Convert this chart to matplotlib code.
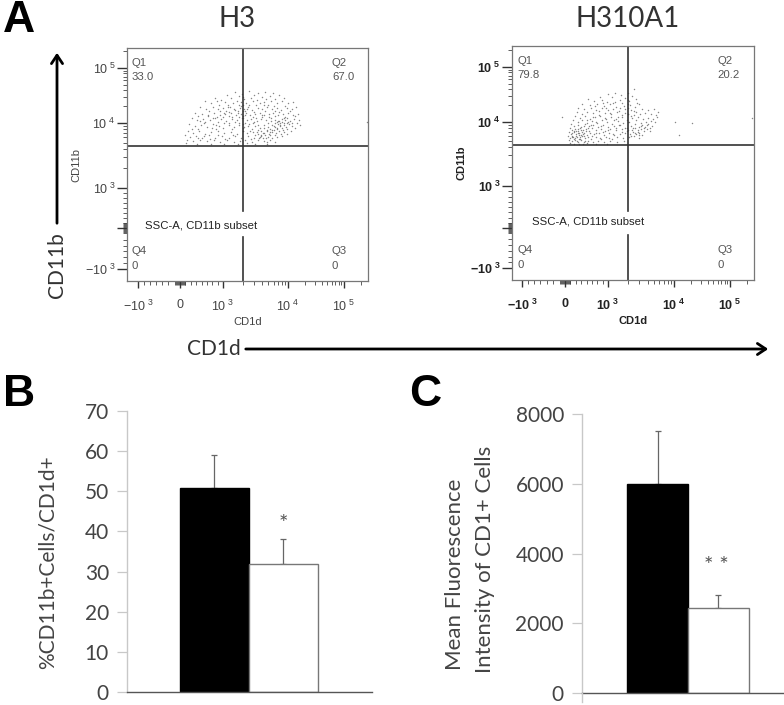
import matplotlib
matplotlib.use("Agg")
import matplotlib.pyplot as plt
import numpy as np

plt.rcParams['font.family'] = ['Lato', 'DejaVu Sans']
plt.rcParams['mathtext.fontset'] = 'custom'
plt.rcParams['mathtext.rm'] = 'Liberation Sans'
plt.rcParams['mathtext.bf'] = 'Liberation Sans:bold'
plt.rcParams['mathtext.default'] = 'rm'

W, H = 784, 705

# flow plots: events in display channels (biexponential scale)
h3_events = [
    (108,189),(122,190),(131,188),(138,189),(146,188),(100,186),(112,185),(127,186),(135,184),(143,185),(152,186),
    (88,183),(94,181),(104,183),(117,182),(124,183),(130,181),(139,182),(148,182),(157,183),(115,187),
    (78,180),(84,178),(90,180),(98,179),(106,178),(110,180),(114,179),(119,178),(126,180),(133,178),(137,179),
    (144,180),(150,178),(155,180),(161,178),(166,179),(92,176),(101,176),(112,176),(122,176),(129,176),(141,176),(147,175),(158,175),
    (73,174),(79,172),(86,174),(91,172),(96,173),(103,174),(108,171),(113,173),(117,172),(121,174),(125,171),(131,173),(135,172),
    (140,174),(145,172),(150,173),(154,171),(160,173),(165,172),(169,174),(82,170),(99,170),(111,170),(118,170),(127,169),(138,170),(152,169),(163,170),
    (68,168),(75,167),(81,166),(87,168),(93,166),(98,167),(104,168),(109,166),(114,167),(119,168),(123,166),(128,167),(133,168),
    (137,166),(142,167),(146,168),(151,166),(156,167),(161,168),(166,166),(171,167),(71,165),(90,164),(102,165),(112,164),(116,165),(126,164),(135,164),(148,165),(158,164),(168,165),
    (65,163),(70,161),(76,162),(83,161),(88,163),(94,162),(99,160),(105,162),(110,161),(115,163),(120,161),(124,162),(130,160),
    (134,162),(139,161),(144,163),(148,161),(152,160),(155,162),(158,161),(160,163),(163,160),(167,162),(172,161),(78,159),(97,158),(108,159),(118,158),(127,159),(141,158),(150,159),(153,158),(157,158),(161,159),(170,158),
    (62,157),(68,155),(74,156),(80,154),(86,157),(92,155),(96,153),(102,156),(107,154),(112,156),(117,154),(122,157),(128,155),
    (133,153),(137,156),(141,154),(145,156),(148,154),(151,157),(153,155),(155,153),(157,156),(159,154),(162,157),(165,155),(168,153),(173,156),(71,152),(89,152),(105,152),(125,152),(143,152),(150,152),(156,151),(160,152),
    (61,150),(66,148),(72,150),(78,147),(84,149),(91,150),(97,148),(104,149),(110,147),(116,150),(120,148),(126,149),(131,147),
    (134,150),(137,148),(140,150),(142,147),(145,149),(147,151),(149,148),(152,150),(154,147),(157,149),(160,147),(164,150),(131,151),(138,146),(143,146),(148,146),(134,146),
    (58,146),(63,144),(69,145),(75,143),(82,146),(88,143),(95,145),(102,143),(108,145),(114,143),(121,145),(127,143),(133,144),
    (136,143),(141,144),(145,143),(150,144),(155,145),(60,141),(66,140),(73,141),(80,140),(87,141),(93,139),(100,141),(107,139),(118,141),(125,139),(131,141),(137,140),(143,141),(148,139),
    (59,138),(70,137),(84,137),(97,137),(111,137),(120,138),(128,137),(140,137),
    (116,176),(116,170),(116,163),(116,157),(116,184),(116,150),(240,159),
    # denser parts of the cloud
    (150.5,160.5),(154.5,159.5),(147.5,158.5),(156.5,163.5),(152.5,156.5),(146.5,155.5),(149.5,153.5),(159.5,158.5),(143.5,160.5),(164.5,158.5),
    (135.5,148.5),(139.5,151.5),(129.5,149.5),(133.5,145.5),(142.5,149.5),(127.5,146.5),(136.5,153.5),(144.5,151.5),(138.5,143.5),(131.5,143.5),
    (101.5,169.5),(106.5,172.5),(110.5,168.5),(113.5,175.5),(96.5,168.5),(119.5,172.5),(104.5,164.5),(117.5,166.5),(100.5,174.5),(92.5,170.5),
    (85.5,163.5),(80.5,165.5),(90.5,159.5),(76.5,158.5),(84.5,153.5),(95.5,164.5),(72.5,160.5),(88.5,156.5),(101.5,158.5),(111.5,158.5),
    (120.5,155.5),(125.5,158.5),(130.5,156.5),(122.5,150.5),(115.5,153.5),(128.5,163.5),(134.5,166.5),(141.5,164.5),(147.5,170.5),(136.5,176.5),
    (76.5,145.5),(90.5,146.5),(105.5,146.5),(70.5,143.5),(97.5,142.5),(112.5,140.5),(123.5,142.5),(64.5,152.5),(82.5,142.5),(139.5,139.5),
]
h310_events = [
    (122,191),(116,187),(103,187),(109,185),(120,184),(96,186),(88,183),(100,183),(113,182),(124,181),(108,180),
    (76,181),(82,179),(90,180),(95,178),(103,178),(110,177),(117,179),(125,177),(70,176),(78,175),(85,176),(92,174),(98,176),(104,173),(112,174),(118,175),(123,173),(127,176),
    (66,172),(72,171),(79,172),(84,170),(90,172),(96,170),(101,171),(107,169),(113,171),(119,170),(124,168),(130,171),(136,170),(142,171),(146,168),
    (65,168),(70,166),(75,168),(81,167),(87,165),(93,167),(99,166),(105,168),(110,165),(116,166),(122,165),(128,166),(133,167),(139,166),(144,165),
    (63,164),(68,162),(73,164),(78,161),(83,163),(88,164),(94,161),(99,163),(104,161),(110,163),(115,160),(120,162),(126,163),(131,161),(136,162),(141,161),(145,163),
    (61,160),(66,158),(70,160),(75,157),(80,159),(85,157),(90,160),(95,158),(100,156),(106,159),(111,157),(117,158),(124,160),(129,157),(134,158),(139,159),(143,158),
    (59,156),(62,154),(66,155),(69,153),(73,156),(77,154),(81,155),(86,153),(91,155),(96,153),(102,154),(108,155),(113,152),(119,154),(123,156),(127,153),(130,155),(133,153),(136,156),(140,154),
    (58,152),(60,150),(63,151),(66,149),(68,152),(71,150),(74,151),(77,149),(80,152),(84,150),(89,151),(93,149),(98,151),(104,150),(110,151),(115,149),(120,150),(123,152),(126,150),(129,151),(132,149),(135,151),(138,149),
    (57,148),(59,146),(62,148),(64,146),(67,147),(69,145),(72,147),(75,145),(78,147),(82,146),(87,147),(92,145),(97,147),(102,145),(108,146),(113,147),(118,146),(121,148),(124,146),(127,147),(130,145),
    (56,144),(58,142),(60,144),(63,142),(65,143),(68,141),(70,144),(73,142),(76,143),(79,141),(84,143),(89,141),(94,143),(100,141),(105,143),(111,142),(117,143),(122,144),(127,142),
    (57,140),(60,139),(63,140),(66,138),(69,140),(72,138),(76,139),(81,138),(86,139),(92,138),(98,139),(105,138),(112,139),
    (58,137),(62,136),(67,136),(71,136),(75,137),(84,136),(95,136),
    (60,147),(61,143),(64,149),(67,145),(62,141),(66,151),(70,148),(65,139),(68,143),(72,144),(116,172),(116,166),(116,158),(116,150),(116,180),
    (50,163),(163,158),(180,157),(167,145),(240,162),
    # denser parts of the cloud
    (61.5,149.5),(65.5,147.5),(68.5,150.5),(63.5,144.5),(70.5,146.5),(59.5,143.5),(73.5,149.5),(66.5,141.5),(75.5,152.5),(71.5,154.5),
    (78.5,155.5),(83.5,158.5),(88.5,154.5),(92.5,162.5),(86.5,169.5),(80.5,163.5),(74.5,160.5),(97.5,167.5),(101.5,160.5),(106.5,155.5),
    (120.5,152.5),(125.5,148.5),(128.5,154.5),(122.5,147.5),(131.5,152.5),(118.5,144.5),(134.5,155.5),(126.5,145.5),(137.5,152.5),(114.5,152.5),
    (83.5,147.5),(90.5,148.5),(95.5,150.5),(100.5,146.5),(79.5,144.5),(87.5,142.5),(103.5,152.5),(109.5,148.5),(96.5,142.5),(72.5,139.5),
    (93.5,172.5),(100.5,177.5),(107.5,172.5),(112.5,167.5),(118.5,164.5),(105.5,163.5),(90.5,177.5),(115.5,176.5),(82.5,174.5),(121.5,169.5),
]

# tick positions in display channels, one set per plot
h3_xticks = [11, 53, 96, 161, 217]
h3_yticks = [12, 53, 93, 158, 213]
h310_xticks = [10, 53, 96, 162, 218]
h310_yticks = [12, 52, 94, 158, 213]
tick_exponents = ['-10', '0', '10', '10', '10']
tick_powers = ['3', '', '3', '4', '5']
h3_quadrants = ['33.0', '67.0', '0', '0']
h310_quadrants = ['79.8', '20.2', '0', '0']

# bar panels
b_values = [50.8, 32]
b_errors = [8.2, 6]
b_ticks = [0, 10, 20, 30, 40, 50, 60, 70]
c_values = [6000, 2430]
c_errors = [1500, 370]
c_ticks = [0, 2000, 4000, 6000, 8000]


def px_axes(fig, left, top, right, bottom):
    return fig.add_axes([left / W, 1 - bottom / H, (right - left) / W, (bottom - top) / H])


def minor_positions(ticks):
    pos = []
    # log subdivisions above 10^3, roughly even spacing below
    for a, b in zip(ticks[2:-1], ticks[3:]):
        pos += [a + (b - a) * np.log10(k) for k in range(2, 10)]
    pos += [ticks[-1] + (ticks[-1] - ticks[-2]) * np.log10(k) for k in range(2, 4)]
    pos += list(np.linspace(ticks[1], ticks[2], 9)[1:-1])
    pos += [ticks[1] + d for d in (-5, -4, -3, -2, -1, 1, 2, 3, 4, 5)]
    pos += list(np.linspace(ticks[0], ticks[1], 8)[1:-2])
    return pos


def power_labels(bold, with_zero):
    labels = []
    for base, power in zip(tick_exponents, tick_powers):
        if power == '':
            labels.append('0' if with_zero else '')
        elif bold:
            labels.append('$\\mathbf{%s}^{\\ \\mathbf{%s}}$' % (base, power))
        else:
            labels.append('$%s^{\\ %s}$' % (base, power))
    return labels


def flow_plot(fig, box, events, xticks, yticks, quadrants, vgap, bold, text_xy):
    ax = px_axes(fig, *box)
    right = box[2] - box[0]
    top = box[3] - box[1]
    pts = np.array(events).T
    ax.scatter(pts[0], pts[1], s=1.1, color='#555555', alpha=0.7, linewidths=0)

    vx, hy = 116, 135
    ax.axhline(hy, color='#333333', lw=1.2)
    ax.plot([vx, vx], [0, vgap[0]], color='#333333', lw=1.2)
    ax.plot([vx, vx], [vgap[1], top], color='#333333', lw=1.2)

    for s in ax.spines.values():
        s.set_color('#777777')
        s.set_linewidth(0.9)

    weight = 'bold' if bold else 'normal'
    label_color = '#222222' if bold else '#444444'
    font = dict(family='Liberation Sans', color=label_color, weight=weight)
    ax.set_xticks(xticks)
    ax.set_xticklabels(power_labels(bold, True), fontsize=9, **font)
    ax.set_yticks(yticks)
    ax.set_yticklabels(power_labels(bold, False), fontsize=9, **font)
    ax.tick_params(axis='x', length=5, width=1, color='#333333', pad=8)
    ax.tick_params(axis='y', length=7, width=1, color='#333333', pad=1)
    ax.set_xticks(minor_positions(xticks), minor=True)
    ax.set_yticks(minor_positions(yticks), minor=True)
    ax.tick_params(which='minor', length=3, width=0.6, color='#444444')
    ax.set_xlabel('CD1d', fontsize=8, labelpad=2, **font)
    ax.set_ylabel('CD11b', fontsize=8, labelpad=3, **font)
    ax.set_xlim(0, right)
    ax.set_ylim(0, top)

    q = dict(fontsize=8.2, family='Liberation Sans', weight='normal', color='#555555', va='center', ha='left')
    ax.text(5, top - 15, 'Q1', **q)
    ax.text(5, top - 29, quadrants[0], **q)
    ax.text(205, top - 15, 'Q2', **q)
    ax.text(205, top - 29, quadrants[1], **q)
    ax.text(5, 30, 'Q4', **q)
    ax.text(5, 15, quadrants[3], **q)
    ax.text(205, 30, 'Q3', **q)
    ax.text(205, 15, quadrants[2], **q)
    ax.text(text_xy[0], text_xy[1], 'SSC-A, CD11b subset', fontsize=8.2, family='Liberation Sans',
            weight='normal', color='#222222', va='center', ha='left')
    return ax


def bar_plot(fig, box, values, errors, ticks, ymax, xlim, left_stub):
    ax = px_axes(fig, *box)
    ax.bar([0, 1], values, width=1, color=['black', 'white'], edgecolor=['black', '#777777'], linewidth=1, zorder=2)
    ax.errorbar([0, 1], values, yerr=[[0, 0], errors], fmt='none', ecolor='#666666', elinewidth=0.9, capsize=2, capthick=0.9, zorder=1)
    ax.set_xlim(*xlim)
    ax.set_ylim(0, ymax)
    ax.set_xticks([])
    ax.set_yticks(ticks)
    ax.tick_params(axis='y', length=left_stub, width=0.9, color='#c8c8c8', labelsize=15, labelcolor='#444444', pad=6)
    for s in ('top', 'right'):
        ax.spines[s].set_visible(False)
    ax.spines['left'].set_color('#c8c8c8')
    ax.spines['left'].set_linewidth(1)
    ax.spines['bottom'].set_color('#555555')
    ax.spines['bottom'].set_linewidth(1)
    return ax


fig = plt.figure(figsize=(W / 100, H / 100), dpi=100)

flow_plot(fig, (127, 48, 368, 281), h3_events, h3_xticks, h3_yticks, h3_quadrants, (44, 70), False, (18, 55))
flow_plot(fig, (512, 46, 754, 280), h310_events, h310_xticks, h310_yticks, h310_quadrants, (45, 69), True, (20, 58))

bar_plot(fig, (127, 411, 372, 692), b_values, b_errors, b_ticks, 70, (-1.268, 2.283), 7)
bar_plot(fig, (582, 414, 784, 693), c_values, c_errors, c_ticks, 8000, (-1.238, 2.074), 7)

# overlay in picture pixels for panel letters, big arrows and the free labels
ov = fig.add_axes([0, 0, 1, 1], facecolor='none')
ov.set_xlim(0, W)
ov.set_ylim(H, 0)
ov.axis('off')

for letter, x, y in (('A', 3, 20), ('B', 3, 394), ('C', 409, 395)):
    ov.text(x, y, letter, fontsize=32, family='Liberation Sans', weight='bold', color='black', va='center', ha='left')

ov.text(237, 19, 'H3', fontsize=20, color='#333333', ha='center', va='center')
ov.text(628, 19, 'H310A1', fontsize=20, color='#333333', ha='center', va='center')

ov.annotate('', xy=(57, 50), xytext=(57, 226), arrowprops=dict(arrowstyle='->,head_width=0.4,head_length=0.6', color='black', lw=2))
ov.annotate('', xy=(771, 349), xytext=(243, 349), arrowprops=dict(arrowstyle='->,head_width=0.4,head_length=0.6', color='black', lw=2))
ov.text(57, 265, 'CD11b', fontsize=15, rotation=90, color='#333333', ha='center', va='center')
ov.text(214, 349, 'CD1d', fontsize=15, color='#333333', ha='center', va='center')

ov.text(48, 562, '%CD11b+Cells/CD1d+', fontsize=15, rotation=90, color='#444444', ha='center', va='center')
ov.text(455, 574, 'Mean Fluorescence', fontsize=16, rotation=90, color='#444444', ha='center', va='center')
ov.text(485, 559, 'Intensity of CD1+ Cells', fontsize=16, rotation=90, color='#444444', ha='center', va='center')

ov.plot([582, 582], [693, 702], color='#c8c8c8', lw=1)
ov.text(283, 524, '*', fontsize=16, color='#555555', ha='center', va='center')
ov.text(716, 566, '* *', fontsize=16, color='#555555', ha='center', va='center')

fig.savefig('out.png', dpi=100)
